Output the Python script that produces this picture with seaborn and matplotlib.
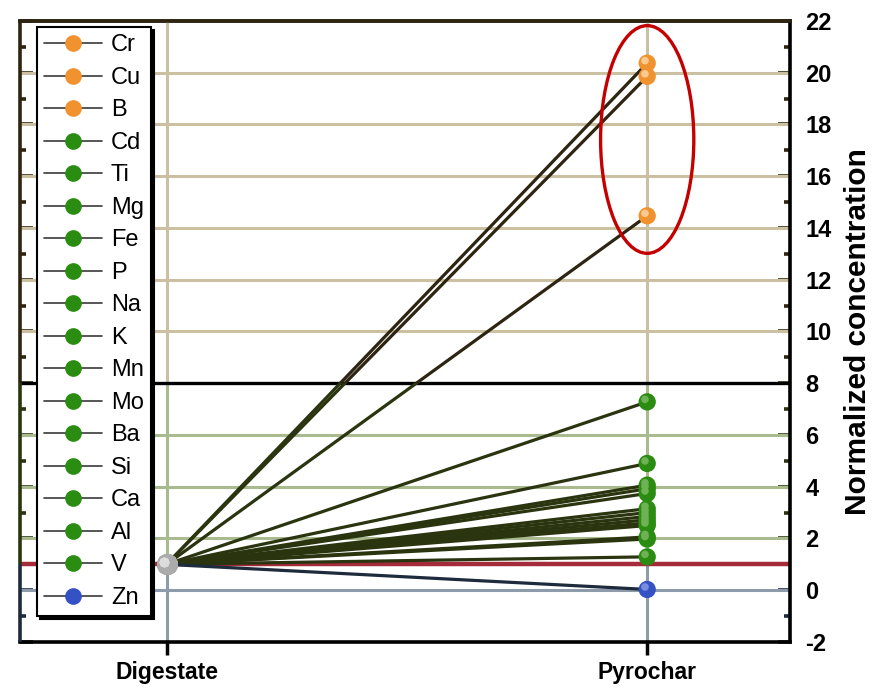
import numpy as np
import pandas as pd
import matplotlib
matplotlib.use("Agg")
import matplotlib.pyplot as plt
import matplotlib.transforms as mtransforms
from matplotlib.lines import Line2D
from matplotlib.patches import Ellipse, Rectangle
import seaborn as sns

# ---- data -------------------------------------------------------------
elements = ["Cr", "Cu", "B", "Cd", "Ti", "Mg", "Fe", "P", "Na", "K",
            "Mn", "Mo", "Ba", "Si", "Ca", "Al", "V", "Zn"]
groups = ["enriched"] * 3 + ["moderate"] * 14 + ["depleted"]
stages = ["Digestate", "Pyrochar"]
digestate = [1.0] * 18
pyrochar = [20.37, 19.86, 14.47, 7.28, 4.90, 4.06, 3.92, 3.74, 3.15, 3.00,
            2.85, 2.72, 2.60, 2.50, 2.06, 1.98, 1.29, 0.03]
y_major = list(range(-2, 23, 2))
y_minor = list(range(-1, 22, 2))

# ---- styling ----------------------------------------------------------
TAN, GREEN_GRID, GRAY_GRID = "#ccc0a2", "#a9ba8e", "#8d9bab"
BROWN, OLIVE, NAVY = "#2d2511", "#2a3510", "#1e2b3c"
RED = "#a52a3a"
group_colors = {"enriched": "#f0922e", "moderate": "#2a8c10", "depleted": "#3552c4"}
group_light = {"enriched": "#f9c98f", "moderate": "#6fb255", "depleted": "#7a8ce0"}
DIG_COLOR, DIG_LIGHT = "#ababab", "#dcdcdc"

sns.set_theme(style="white")
plt.rcParams["font.family"] = ["Liberation Sans", "DejaVu Sans"]
plt.rcParams["text.color"] = "black"
plt.rcParams["xtick.labelcolor"] = "black"
plt.rcParams["ytick.labelcolor"] = "black"
plt.rcParams["axes.labelcolor"] = "black"

rows = []
for el, g, d, p in zip(elements, groups, digestate, pyrochar):
    rows.append(dict(element=el, group=g, stage=stages[0], x=0, value=d))
    rows.append(dict(element=el, group=g, stage=stages[1], x=1, value=p))
df = pd.DataFrame(rows)

fig = plt.figure(figsize=(8.84, 6.9), dpi=100)
ax = fig.add_axes([0.0226, 0.0696, 0.8710, 0.9000])
XLIM = (-0.305, 1.297)
YLIM = (-2, 22)
ax.set_xlim(*XLIM)
ax.set_ylim(*YLIM)

# stacked bands: (low, high, grid colour, axis/line colour)
bands = [(8, 22, TAN, BROWN), (1, 8, GREEN_GRID, OLIVE), (-2, 1, GRAY_GRID, NAVY)]


def band_of(v):
    for lo, hi, gc, lc in bands:
        if lo < v <= hi:
            return gc, lc
    return bands[-1][2], bands[-1][3]


# horizontal grid lines
for v in y_major:
    if v in (-2, 8, 22):
        continue
    gc, _ = band_of(v)
    ax.axhline(v, color=gc, lw=2.2, zorder=1)

# vertical grid lines, coloured per band
for xv in range(len(stages)):
    for lo, hi, gc, _ in bands:
        ax.plot([xv, xv], [lo, hi], color=gc, lw=2.2, zorder=1,
                solid_capstyle="butt")

# band separators
ax.axhline(8, color="black", lw=2.4, zorder=2)
ax.axhline(1, color=RED, lw=3.2, zorder=2)


def clipped_lines(sub, color, lo, hi):
    n0 = len(ax.lines)
    sns.lineplot(data=sub, x="x", y="value", units="element", estimator=None,
                 color=color, lw=2.3, ax=ax, legend=False, zorder=3)
    clip = Rectangle((XLIM[0], lo), XLIM[1] - XLIM[0], hi - lo,
                     transform=ax.transData, visible=False)
    for ln in ax.lines[n0:]:
        ln.set_clip_path(clip)


rising = df[df["group"] != "depleted"]
clipped_lines(rising, OLIVE, -2, 8)
clipped_lines(df[df["group"] == "enriched"], BROWN, 8, 22)
clipped_lines(df[df["group"] == "depleted"], NAVY, -2, 22)

# markers with a small highlight to give a ball look
hl = mtransforms.offset_copy(ax.transData, fig=fig, x=-1.6, y=1.8, units="points")
end = df[df["x"] == 1]
start = df[df["x"] == 0]
sns.scatterplot(data=end, x="x", y="value", hue="group", palette=group_colors,
                s=155, linewidth=0, legend=False, ax=ax, zorder=4)
sns.scatterplot(data=start, x="x", y="value", color=DIG_COLOR,
                s=220, linewidth=0, legend=False, ax=ax, zorder=4)
n_coll = len(ax.collections)
sns.scatterplot(data=end, x="x", y="value", hue="group", palette=group_light,
                s=30, linewidth=0, legend=False, ax=ax, zorder=4.5)
sns.scatterplot(data=start, x="x", y="value", color=DIG_LIGHT,
                s=45, linewidth=0, legend=False, ax=ax, zorder=4.5)
for coll in ax.collections[n_coll:]:
    coll.set_offset_transform(hl)

# highlight ring around the enriched elements
enr = [p for p, g in zip(pyrochar, groups) if g == "enriched"]
ring = Ellipse((1.0, (max(enr) + min(enr)) / 2), width=0.194,
               height=(max(enr) - min(enr)) + 2.9, fill=False,
               edgecolor="#c40000", lw=2.4, clip_on=False, zorder=6)
ax.add_patch(ring)

# ---- axes -------------------------------------------------------------
ax.set_xticks(range(len(stages)))
ax.set_xticklabels(stages, fontsize=16.5, fontweight="bold", color="black")
ax.tick_params(axis="x", which="major", direction="out", length=9, width=2.5,
               color="black", pad=5, bottom=True, top=False)
ax.set_xlabel("")

ax.set_yticks(y_major)
ax.set_yticks(y_minor, minor=True)
ax.set_yticklabels([str(v) for v in y_major], fontsize=17, fontweight="bold",
                   color="black")
ax.tick_params(axis="y", which="both", direction="in", left=True, right=True,
               labelleft=False, labelright=True, width=2.6)
ax.tick_params(axis="y", which="major", length=9, pad=11)
ax.tick_params(axis="y", which="minor", length=4.5)
ax.yaxis.set_label_position("right")
ax.set_ylabel("Normalized concentration", fontsize=21.5, fontweight="bold",
              labelpad=9, color="black")

for sp in ("right", "bottom"):
    ax.spines[sp].set_color("black")
    ax.spines[sp].set_linewidth(2.6)
ax.spines["top"].set_color(BROWN)
ax.spines["top"].set_linewidth(2.6)
ax.spines["left"].set_visible(False)

# left axis line coloured per band
edge = mtransforms.blended_transform_factory(ax.transAxes, ax.transData)
for lo, hi, _, lc in bands:
    ax.plot([0, 0], [lo, hi], color=lc, lw=2.6, transform=edge, clip_on=False,
            zorder=5, solid_capstyle="butt")

top = ax.secondary_xaxis("top")
top.set_xticks(range(len(stages)))
top.tick_params(direction="in", length=6, width=2, color=BROWN,
                labeltop=False, labelbottom=False)
top.spines["top"].set_color(BROWN)
top.spines["top"].set_linewidth(2.6)

# legend
handles = [Line2D([0], [0], color="#3a3a3a", lw=1.2, marker="o", markersize=11,
                  markerfacecolor=group_colors[g], markeredgecolor=group_colors[g])
           for g in groups]
leg = ax.legend(handles, elements, loc="upper left", bbox_to_anchor=(0.022, 0.990),
                borderaxespad=0, fontsize=17, frameon=True, fancybox=False,
                edgecolor="black", facecolor="white", framealpha=1,
                handlelength=2.45, handletextpad=0.38, labelspacing=0.445,
                borderpad=0.3, shadow={"color": "black", "alpha": 1})
leg.get_frame().set_linewidth(1.5)
for t in leg.get_texts():
    t.set_color("black")
leg.set_zorder(7)

# tick colours follow the band they sit in
for tick, v in zip(ax.yaxis.get_major_ticks(), y_major):
    c = band_of(v)[1]
    tick.tick1line.set_markeredgecolor(c)
    tick.tick2line.set_markeredgecolor(c)
for tick, v in zip(ax.yaxis.get_minor_ticks(), y_minor):
    c = RED if v == 1 else band_of(v)[1]
    tick.tick1line.set_markeredgecolor(c)
    tick.tick2line.set_markeredgecolor(c)

fig.savefig("out.png", dpi=100)
